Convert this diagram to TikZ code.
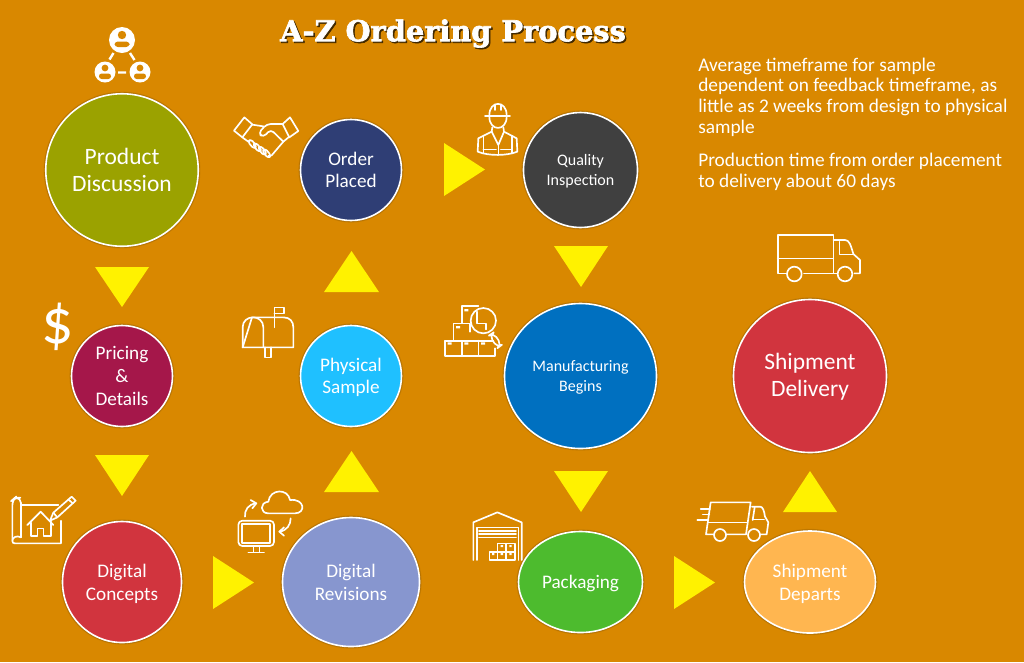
\documentclass[tikz,border=0pt]{standalone}
\usepackage{fontspec}
\setmainfont{Carlito}
\newfontfamily\titlefont{DejaVu Serif Bold}[FakeBold=2.2]
\usetikzlibrary{shapes.geometric}
\definecolor{bgamber}{HTML}{D98800}
\definecolor{cOlive}{HTML}{9BA200}
\definecolor{cNavy}{HTML}{2F3E75}
\definecolor{cCharcoal}{HTML}{404040}
\definecolor{cWine}{HTML}{A5174A}
\definecolor{cSky}{HTML}{1FC0FF}
\definecolor{cBlue}{HTML}{0070C0}
\definecolor{cRed}{HTML}{D1343E}
\definecolor{cPeri}{HTML}{8796CF}
\definecolor{cGreen}{HTML}{4DBB2E}
\definecolor{cApricot}{HTML}{FFB650}
\newcommand{\stagebig}{\fontsize{17.6}{20}\selectfont}
\newcommand{\stagemid}{\fontsize{14.4}{17}\selectfont}
\newcommand{\stagesmall}{\fontsize{12}{15}\selectfont}
\tikzset{
  stage/.style n args={3}{ellipse,draw=white,line width=1.2pt,fill=#1,
    minimum width=#2*0.75pt,minimum height=#3*0.75pt,inner sep=0pt,outer sep=0pt,
    preaction={draw=black,opacity=.08,line width=3.2pt},
    preaction={draw=black,opacity=.12,line width=2.2pt}},
  % Stage wording: font, downward nudge, text
  said/.style n args={3}{label={[text=white,align=center,inner sep=0pt,font=#1,yshift=-#2pt]center:{#3}}},
  pointer/.style={fill=yellow,draw=none},
  icon/.style={draw=white,line width=1.25pt,line join=round,line cap=round},
  note/.style={text=white,align=left,anchor=north west,inner sep=0pt,
    font=\fontsize{14.5}{15.6}\selectfont},
}
% Icon scope: local coordinates are three times finer than the page grid
\newenvironment{iconat}[2]{\begin{scope}[shift={(#1,#2)},x=0.25pt,y=-0.25pt,icon]}{\end{scope}}
\begin{document}
\begin{tikzpicture}[x=0.75pt,y=-0.75pt]
\fill[bgamber] (0,0) rectangle (1024,662);
\useasboundingbox (0,0) rectangle (1024,662);

% Heading with its dark offset shade
\node[text=black!70!bgamber,font=\titlefont\fontsize{21.6}{26}\selectfont] (titleshade) at (454.5,35) {A-Z Ordering Process};
\node[text=white,font=\titlefont\fontsize{21.6}{26}\selectfont] (title) at (453,33.5) {A-Z Ordering Process};

% Process stages
\node[stage={cOlive}{152.5}{152.5},said={\stagebig}{0}{Product\\Discussion}] (product) at (122,170) {};
\node[stage={cWine}{101}{101},said={\stagemid}{0}{Pricing\\\&\\Details}] (pricing) at (122,376) {};
\node[stage={cRed}{119}{121},said={\stagemid}{1.2}{Digital\\Concepts}] (concepts) at (122,582) {};
\node[stage={cPeri}{137}{129},said={\stagemid}{0.3}{Digital\\Revisions}] (revisions) at (351,582) {};
\node[stage={cSky}{101}{101},said={\stagemid}{1}{Physical\\Sample}] (sample) at (351,376) {};
\node[stage={cNavy}{101}{101},said={\stagemid}{0}{Order\\Placed}] (order) at (351,170) {};
\node[stage={cCharcoal}{114}{115},said={\stagesmall}{1}{Quality\\Inspection}] (quality) at (580.5,170) {};
\node[stage={cBlue}{152}{145},said={\stagesmall}{1}{Manufacturing\\Begins}] (manufacturing) at (580.5,376) {};
\node[stage={cGreen}{124}{101},said={\stagemid}{1.2}{Packaging}] (packaging) at (580.5,582) {};
\node[stage={cApricot}{131}{102},said={\stagemid}{1.2}{Shipment\\Departs}] (departs) at (810,582) {};
\node[stage={cRed}{153}{153},said={\stagebig}{0.7}{Shipment\\Delivery}] (delivery) at (810,376) {};

% Yellow direction markers between the stages
\fill[pointer] (95,267) -- (149,267) -- (122,307) -- cycle;
\fill[pointer] (95,455) -- (149,455) -- (122,496) -- cycle;
\fill[pointer] (213,556) -- (213,609) -- (254,582.5) -- cycle;
\fill[pointer] (324,492) -- (379,492) -- (351.5,451) -- cycle;
\fill[pointer] (324,292) -- (379,292) -- (351.5,251) -- cycle;
\fill[pointer] (444,143) -- (444,196) -- (485,169.5) -- cycle;
\fill[pointer] (554,246) -- (608,246) -- (581,287) -- cycle;
\fill[pointer] (554,471) -- (608,471) -- (581,512) -- cycle;
\fill[pointer] (674,556) -- (674,609) -- (715,582.5) -- cycle;
\fill[pointer] (783,512) -- (837,512) -- (810,471) -- cycle;

% Notes
\node[note] (note1) at (698,57.5) {Average timeframe for sample\\dependent on feedback timeframe, as\\little as 2 weeks from design to physical\\sample};
\node[note] (note2) at (698,153) {Production time from order placement\\to delivery about 60 days};

% Dollar sign
\node[text=white,font=\fontsize{48}{50}\selectfont] (dollar) at (58,327) {\$};

% Three people joined in a triangle
\begin{scope}
  \fill[white] (122,40) circle (13) (105,72) circle (10.5) (140,72) circle (10.5);
  \draw[white,line width=1.8pt] (113.5,53) -- (109.5,59.5) (130,53) -- (134.5,60) (118,72.5) -- (126,72.5);
  \fill[bgamber] (122,35) circle (4.2) (105,68) circle (3.4) (140,68) circle (3.4);
  \fill[bgamber,rounded corners=2.5] (114.5,47) -- (114.5,41.5) -- (129.5,41.5) -- (129.5,47) -- cycle;
  \fill[bgamber,rounded corners=2] (99,79) -- (99,73.5) -- (111,73.5) -- (111,79) -- cycle;
  \fill[bgamber,rounded corners=2] (134,79) -- (134,73.5) -- (146,73.5) -- (146,79) -- cycle;
\end{scope}

% Handshake
\begin{iconat}{0}{0}
  \draw (702,392) -- (733,352) -- (757,373) -- (727,412) -- cycle;
  \draw (848,372) -- (870,352) -- (895,393) -- (868,412) -- cycle;
  \draw (757,374) -- (790,379);
  \draw (727,412) -- (745,425);
  \draw[rounded corners=3pt] (848,372) -- (800,372) -- (775,400) -- (790,412) -- (812,388) -- (850,425);
  \draw (868,410) -- (850,425) -- (815,466) -- (805,468);
  \foreach \cx/\cy in {757/432,772/442,787/452,800/460}
    \draw[rotate around={-50:(\cx,\cy)},rounded corners=2pt] (\cx-14,\cy-6) rectangle (\cx+14,\cy+6);
\end{iconat}

% Site worker in hard hat
\begin{iconat}{430}{90}
  \draw (178,76) .. controls (178,30) and (230,30) .. (230,76);
  \draw (165,77) -- (240,77);
  \draw (195,45) -- (195,60) (212,45) -- (212,60);
  \draw (178,80) .. controls (178,125) and (230,125) .. (230,80);
  \draw (187,112) -- (185,125) -- (145,145) -- (143,185) .. controls (175,198) and (230,198) .. (262,185) -- (260,145) -- (222,125) -- (220,112);
  \draw (185,125) -- (205,165) -- (222,125);
  \draw (160,137) -- (160,190) (245,137) -- (245,190) (205,165) -- (205,195);
  \draw (160,178) -- (198,178) (212,178) -- (245,178);
\end{iconat}

% Mailbox
\begin{iconat}{230}{290}
  \draw (38,172) -- (38,112) .. controls (38,72) and (100,72) .. (100,112) -- (100,172);
  \draw (66,82) -- (160,82) .. controls (180,82) and (190,95) .. (190,112) -- (190,172) -- (38,172) -- cycle;
  \draw (133,112) -- (133,52) -- (162,52) -- (162,70) -- (133,70);
  \draw (105,172) -- (105,202) -- (122,202) -- (122,172);
\end{iconat}

% Stacked cartons under a magnifier
\begin{iconat}{230}{290}
  \draw (645,152) rectangle (695,197) (695,152) rectangle (745,197);
  \draw (745,152) -- (745,197) -- (795,197) -- (795,175);
  \draw (645,152) -- (790,152);
  \draw (670,152) -- (670,100) -- (720,100) -- (720,125);
  \draw (695,100) -- (695,47) -- (745,47);
  \draw (760,92) circle [radius=38];
  \draw (740,65) -- (740,100) -- (768,100) -- (768,118);
  \draw[rounded corners=4pt] (778,136) -- (790,128) -- (815,165) -- (803,174) -- cycle;
  \fill[white,draw=none] (653,157) rectangle (665,164) (703,157) rectangle (715,164) (753,157) rectangle (765,164) (678,108) rectangle (690,115) (703,57) rectangle (715,64);
\end{iconat}

% Blueprint with house and pencil
\begin{iconat}{0}{480}
  \draw[rounded corners=4pt] (37,180) -- (37,60) -- (45,53) -- (63,53) -- (63,172);
  \draw (63,172) .. controls (50,165) and (37,172) .. (37,183) .. controls (37,188) and (40,190) .. (45,190) -- (183,190) -- (183,122);
  \draw (63,75) -- (175,75);
  \draw (82,135) -- (122,95) -- (160,135);
  \draw (92,128) -- (92,168) -- (112,168) -- (112,145) -- (130,145) -- (130,168) -- (152,168) -- (152,125);
  \draw (150,122) -- (160,98) -- (215,50) -- (227,62) -- (172,112) -- cycle;
  \draw (160,98) -- (172,112) (205,58) -- (218,70);
\end{iconat}

% Monitor syncing with a cloud
\begin{iconat}{0}{480}
  \draw[rounded corners=3pt] (715,122) rectangle (822,198);
  \draw (725,132) rectangle (810,188);
  \draw (760,198) -- (760,215) (778,198) -- (778,215) (745,217) -- (792,217);
  \draw (735,110) .. controls (733,90) and (745,73) .. (768,70);
  \draw (752,60) -- (769,70) -- (757,85);
  \draw (872,115) .. controls (872,135) and (860,152) .. (838,155);
  \draw (852,142) -- (838,155) -- (852,167);
  \draw (805,100) .. controls (780,100) and (778,68) .. (805,65) .. controls (810,25) and (865,25) .. (870,60) .. controls (915,55) and (918,100) .. (885,100) -- cycle;
\end{iconat}

% Warehouse
\begin{iconat}{460}{490}
  \draw (40,210) -- (40,97) -- (112,67) -- (185,97) -- (185,210);
  \draw (50,210) -- (50,112) -- (175,112) -- (175,210);
  \draw (57,122) -- (168,122) (57,132) -- (168,132) (57,142) -- (168,142);
  \draw (88,185) rectangle (112,210) (112,185) rectangle (138,210) (138,185) rectangle (165,210);
  \draw (112,160) rectangle (138,185) (138,160) rectangle (165,185);
  \fill[white,draw=none] (96,189) rectangle (103,195) (122,189) rectangle (129,195) (148,189) rectangle (155,195) (122,165) rectangle (129,171) (148,165) rectangle (155,171);
\end{iconat}

% Moving lorry with speed lines
\begin{iconat}{460}{490}
  \draw (762,133) -- (738,133) -- (752,37) -- (872,37) -- (858,133) -- (800,133);
  \draw (745,97) -- (862,97);
  \draw (780,135) circle [radius=18] (882,135) circle [radius=18];
  \draw (876,50) -- (900,50) .. controls (908,50) and (912,60) .. (915,80) -- (925,97) -- (920,133) -- (902,133);
  \draw (880,88) -- (912,88);
  \draw (884,52) -- (878,90);
  \draw (722,57) -- (750,57) (728,73) -- (748,73) (712,90) -- (745,90);
\end{iconat}

% Delivery lorry
\begin{iconat}{760}{225}
  \draw (80,145) -- (53,145) -- (53,30) -- (220,30) -- (220,145) -- (132,145);
  \draw (53,100) -- (220,100);
  \draw (103,147) circle [radius=22] (255,147) circle [radius=22];
  \draw (220,45) -- (255,45) .. controls (268,45) and (272,60) .. (280,87) -- (300,105) -- (300,145) -- (283,145);
  \draw (238,50) -- (238,88) -- (280,88);
  \draw (220,145) -- (232,145);
\end{iconat}
\end{tikzpicture}
\end{document}
